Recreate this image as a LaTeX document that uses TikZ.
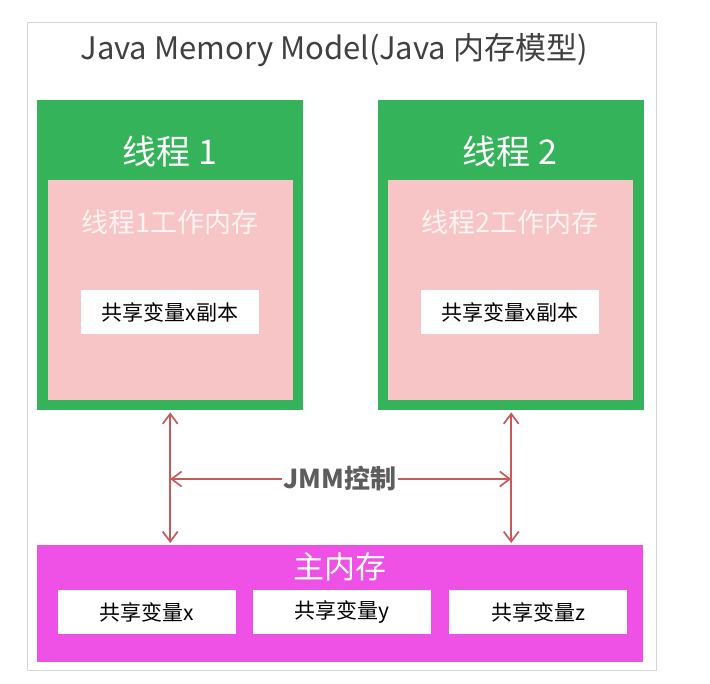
\documentclass[tikz,border=0pt]{standalone}
\usepackage{fontspec}
\setmainfont{Noto Sans CJK SC}
\usetikzlibrary{arrows.meta}

\definecolor{threadgreen}{HTML}{35B35B}
\definecolor{workpink}{HTML}{F8C5C6}
\definecolor{mainmag}{HTML}{EF50E6}
\definecolor{jmmred}{HTML}{C55A5A}
\definecolor{framegray}{HTML}{D6D6D6}
\definecolor{titlegray}{HTML}{404040}

\begin{document}
\begin{tikzpicture}[x=1pt,y=-1pt,
    fillbox/.style={anchor=north west, inner sep=0pt, draw=none},
    threadbox/.style={fillbox, fill=threadgreen, minimum width=266pt, minimum height=310pt},
    workbox/.style={fillbox, fill=workpink, minimum width=245pt, minimum height=220pt},
    varbox/.style={fillbox, fill=white, minimum width=178pt, minimum height=44pt,
        font=\fontsize{21}{23}\selectfont},
    jmmarrow/.style={jmmred, line width=1.7pt, {Straight Barb[length=10pt,width=15pt]}-{Straight Barb[length=10pt,width=15pt]}}]
    \useasboundingbox (0,0) rectangle (710,684);

    \draw[framegray, line width=0.8pt] (27,22) rectangle (656,670);
    \node[text=titlegray, font=\fontsize{31}{34}\selectfont] (title) at (334,50) {Java Memory Model(Java 内存模型)};

    % threads
    \node[threadbox] (t1) at (37,100) {};
    \node[threadbox] (t2) at (378,100) {};
    \node[text=white, font=\fontsize{34}{36}\selectfont] (t1name) at (170,152) {线程 1};
    \node[text=white, font=\fontsize{34}{36}\selectfont] (t2name) at (510,152) {线程 2};

    \node[workbox] (w1) at (48,180) {};
    \node[workbox] (w2) at (388,180) {};
    \node[text=white!80!workpink, font=\fontsize{27}{30}\selectfont] (w1name) at (170,222) {线程1工作内存};
    \node[text=white!80!workpink, font=\fontsize{27}{30}\selectfont] (w2name) at (510,222) {线程2工作内存};

    \node[varbox] (c1) at (81,290) {共享变量x副本};
    \node[varbox] (c2) at (421,290) {共享变量x副本};

    % main memory
    \node[fillbox, fill=mainmag, minimum width=606pt, minimum height=117pt] (mem) at (37,545) {};
    \node[text=white, font=\fontsize{31}{34}\selectfont] (memname) at (340,567) {主内存};
    \node[varbox] (vx) at (58,590) {共享变量x};
    \node[varbox] (vy) at (253,590) {共享变量y};
    \node[varbox] (vz) at (449,590) {共享变量z};

    % JMM
    \coordinate (jmm) at (340,479);
    \draw[jmmarrow, shorten <=2pt, shorten >=2pt] (t1.south) -- (t1.south |- mem.north);
    \draw[jmmarrow, shorten <=2pt, shorten >=2pt] (t2.south) -- (t2.south |- mem.north);
    \draw[jmmarrow] (t1.south |- jmm) -- (t2.south |- jmm);
    \node[fill=white, inner sep=2pt, text=titlegray!85!white, font=\fontsize{26}{28}\selectfont\bfseries] (jmmname) at (jmm) {JMM控制};
\end{tikzpicture}
\end{document}
